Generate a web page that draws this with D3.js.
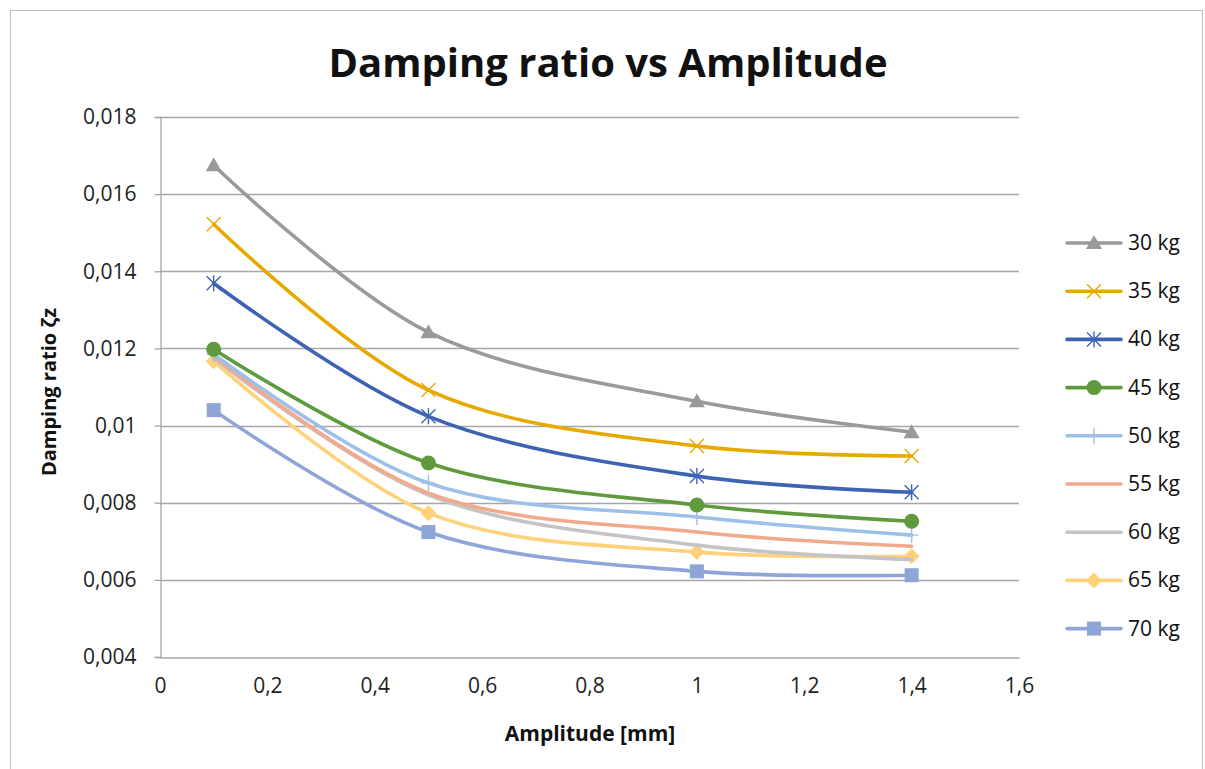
<!DOCTYPE html>
<html>
<head>
<meta charset="utf-8">
<style>
  body { margin: 0; background: #fff; font-family: "Open Sans", "Noto Sans", sans-serif; }
  .tick text { font-size: 21px; fill: #222; }
</style>
<script src="https://cdn.jsdelivr.net/npm/d3@7"></script>
</head>
<body>
<script>
// amplitudes [mm]
var amplitudes = [0.1, 0.5, 1.0, 1.4];

var seriesNames = ["30 kg", "35 kg", "40 kg", "45 kg", "50 kg", "55 kg", "60 kg", "65 kg", "70 kg"];

// damping ratio per series, one value per amplitude
var kg30 = [0.01675, 0.01242, 0.01063, 0.00983];
var kg35 = [0.01522, 0.01092, 0.00947, 0.00921];
var kg40 = [0.01369, 0.01024, 0.00869, 0.00827];
var kg45 = [0.01198, 0.00903, 0.00794, 0.00752];
var kg50 = [0.01185, 0.00851, 0.00763, 0.00716];
var kg55 = [0.01180, 0.00825, 0.00724, 0.00687];
var kg60 = [0.01175, 0.00820, 0.00690, 0.00653];
var kg65 = [0.01167, 0.00773, 0.00672, 0.00661];
var kg70 = [0.01040, 0.00724, 0.00622, 0.00612];

var xTicks = [0, 0.2, 0.4, 0.6, 0.8, 1, 1.2, 1.4, 1.6];
var yTicks = [0.004, 0.006, 0.008, 0.01, 0.012, 0.014, 0.016, 0.018];

var colors = ["#9a9a9a", "#e6a900", "#3d63b3", "#5f9b3c", "#9dc0e8", "#f2a98c", "#c4c4c4", "#ffd27a", "#8fa5d8"];
var markers = ["triangle", "x", "asterisk", "circle", "plus", "none", "none", "diamond", "square"];

var allValues = [kg30, kg35, kg40, kg45, kg50, kg55, kg60, kg65, kg70];

var W = 1205, H = 769;
var svg = d3.select("body").append("svg").attr("width", W).attr("height", H);

// chart border
svg.append("rect").attr("x", 10.5).attr("y", 10.5).attr("width", 1192).attr("height", 770)
  .attr("fill", "none").attr("stroke", "#bdbdbd").attr("stroke-width", 1);

var x = d3.scaleLinear().domain([0, 1.6]).range([160, 1019]);
var y = d3.scaleLinear().domain([0.004, 0.018]).range([657, 117]);

var fmt = function(d) { return String(+d.toFixed(3)).replace(".", ","); };

// gridlines
svg.append("g").selectAll("line").data(yTicks.slice(1)).enter().append("line")
  .attr("x1", x(0)).attr("x2", x(1.6))
  .attr("y1", d => Math.round(y(d)) + 0.5).attr("y2", d => Math.round(y(d)) + 0.5)
  .attr("stroke", "#a6a6a6").attr("stroke-width", 1.3);

var yAxis = svg.append("g").attr("transform", "translate(" + (x(0) + 0.5) + ",0)")
  .call(d3.axisLeft(y).tickValues(yTicks).tickFormat(fmt).tickSize(6).tickPadding(18));
yAxis.selectAll("line, path").attr("stroke", "#a6a6a6").attr("stroke-width", 1.3);
yAxis.selectAll("text").style("font-family", "'Open Sans', sans-serif");

var xAxis = svg.append("g").attr("transform", "translate(0," + (Math.round(y(0.004)) + 0.5) + ")")
  .call(d3.axisBottom(x).tickValues(xTicks).tickFormat(fmt).tickSize(0).tickPadding(21));
xAxis.selectAll("path").attr("stroke", "#a6a6a6").attr("stroke-width", 1.3);
xAxis.selectAll("text").style("font-family", "'Open Sans', sans-serif");

// title
svg.append("text").attr("x", 608).attr("y", 77).attr("text-anchor", "middle")
  .style("font-family", "'Open Sans', sans-serif").style("font-weight", "bold").style("font-size", "40px")
  .attr("fill", "#111").text("Damping ratio vs Amplitude");

svg.append("text").attr("x", 590).attr("y", 741).attr("text-anchor", "middle")
  .style("font-family", "'Open Sans', sans-serif").style("font-weight", "bold").style("font-size", "21px")
  .attr("fill", "#111").text("Amplitude [mm]");

svg.append("text").attr("transform", "translate(56,392) rotate(-90)").attr("text-anchor", "middle")
  .style("font-family", "'Open Sans', sans-serif").style("font-weight", "bold").style("font-size", "20px")
  .attr("fill", "#111").text("Damping ratio ζz");

function drawMarker(g, type, color) {
  if (type === "triangle") {
    g.append("path").attr("d", "M0,-8L8,6L-8,6Z").attr("fill", color);
  } else if (type === "x") {
    g.append("path").attr("d", "M-7,-7L7,7M-7,7L7,-7").attr("stroke", color).attr("stroke-width", 1.4);
  } else if (type === "asterisk") {
    g.append("path").attr("d", "M-7,-7L7,7M-7,7L7,-7M0,-8L0,8").attr("stroke", color).attr("stroke-width", 1.4);
  } else if (type === "circle") {
    g.append("circle").attr("r", 7.5).attr("fill", color);
  } else if (type === "plus") {
    g.append("path").attr("d", "M0,-8L0,8M-7,0L7,0").attr("stroke", color).attr("stroke-width", 1.4);
  } else if (type === "diamond") {
    g.append("path").attr("d", "M0,-8L8,0L0,8L-8,0Z").attr("fill", color);
  } else if (type === "square") {
    g.append("rect").attr("x", -7).attr("y", -7).attr("width", 14).attr("height", 14).attr("fill", color);
  }
}

var line = d3.line().x(d => x(d[0])).y(d => y(d[1])).curve(d3.curveCatmullRom.alpha(0.5));

// draw from last series to first so 30 kg is on top
for (var i = allValues.length - 1; i >= 0; i--) {
  var pts = amplitudes.map((a, j) => [a, allValues[i][j]]);
  svg.append("path").datum(pts).attr("d", line)
    .attr("fill", "none").attr("stroke", colors[i]).attr("stroke-width", 3.6)
    .attr("stroke-linejoin", "round").attr("stroke-linecap", "round");
  pts.forEach(function(p) {
    var g = svg.append("g").attr("transform", "translate(" + x(p[0]) + "," + y(p[1]) + ")");
    drawMarker(g, markers[i], colors[i]);
  });
}

// legend
var legend = svg.selectAll(".legend").data(seriesNames).enter().append("g")
  .attr("class", "legend")
  .attr("transform", (d, i) => "translate(1067," + (243 + i * 48.2) + ")");
legend.append("line").attr("x1", 0).attr("x2", 54)
  .attr("stroke", (d, i) => colors[i]).attr("stroke-width", 3.6).attr("stroke-linecap", "round");
legend.each(function(d, i) {
  var g = d3.select(this).append("g").attr("transform", "translate(27,0)");
  drawMarker(g, markers[i], colors[i]);
});
legend.append("text").attr("x", 61).attr("y", 7).text(d => d)
  .style("font-family", "'Open Sans', sans-serif").style("font-size", "21px").attr("fill", "#111");
</script>
</body>
</html>
